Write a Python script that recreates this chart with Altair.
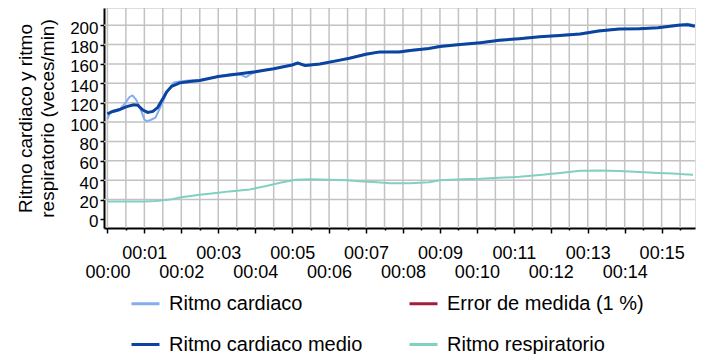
import altair as alt
import pandas as pd

SERIES = ["Ritmo cardiaco", "Error de medida (1 %)", "Ritmo cardiaco medio", "Ritmo respiratorio"]

# time in minutes
raw_t = [0, 0.05, 0.1, 0.3, 0.45, 0.6, 0.68, 0.78, 0.9, 1.0, 1.05, 1.15, 1.3, 1.5, 1.62, 1.8,
         1.96, 2.2, 2.5, 3.0, 3.4, 3.6, 3.75, 3.9, 4.2, 4.5, 5.0, 5.15, 5.35, 5.75, 6.3, 6.55,
         7.0, 7.37, 7.9, 8.2, 8.7, 9.0, 9.55, 10.1, 10.6, 11.15, 11.7, 12.25, 12.8, 13.3, 13.85,
         14.4, 14.9, 15.45, 15.7, 15.9]
raw_v = [103, 108, 110, 112, 118, 126, 127.5, 123, 113, 103, 101, 102, 104.5, 121, 131.5, 141,
         142, 143, 143.5, 147, 150, 149, 146.5, 150, 153.5, 155, 159.5, 161.5, 158, 160, 164.5, 166,
         170.5, 172, 173, 174.5, 176, 178.5, 180, 182.5, 184, 186.5, 188, 190, 191.5, 194.5, 196,
         197, 197.5, 200.5, 201.5, 200]

mean_t = [0, 0.14, 0.33, 0.52, 0.71, 0.82, 0.96, 1.09, 1.23, 1.36, 1.5, 1.6, 1.74, 1.96, 2.23,
          2.5, 3.0, 3.58, 4.0, 4.5, 5.0, 5.15, 5.35, 5.75, 6.3, 6.55, 7.0, 7.37, 7.9, 8.2, 8.7,
          9.0, 9.55, 10.1, 10.6, 11.15, 11.7, 12.25, 12.8, 13.3, 13.85, 14.4, 14.9, 15.45, 15.7, 15.9]
mean_v = [108.5, 111, 113, 116, 118, 117.5, 112.5, 110, 111, 115, 124, 131, 137, 140.5, 142,
          143, 147, 150, 152, 155, 159, 161, 158.5, 160, 164, 166, 170, 172.5, 172.5, 174, 176,
          178, 180, 182, 184.5, 186, 188, 189.5, 191, 194, 196, 196.5, 197.5, 200, 200.5, 199]

resp_t = [0, 0.5, 1.0, 1.3, 1.7, 2.0, 2.5, 3.0, 3.3, 3.85, 4.3, 4.67, 5.1, 5.5, 6.0, 6.5, 6.8,
          7.3, 7.65, 8.2, 8.7, 9.0, 9.6, 10.1, 10.6, 11.15, 11.7, 12.25, 12.8, 13.3, 13.85, 14.4,
          14.9, 15.3, 15.7, 15.85]
resp_v = [18, 18, 18, 18.5, 20, 22.5, 25, 27, 28.5, 30.5, 34, 37.5, 40.5, 41, 40.5, 40, 39,
          38, 37, 37, 38, 40, 41, 41.5, 42.5, 43.5, 45.5, 47.5, 49.8, 50, 49.5, 48.5,
          47.5, 47, 46, 45.7]

y_ticks = list(range(0, 201, 20))
y_grid = list(range(20, 201, 20))
x_ticks = [i * 0.5 for i in range(32)]

COLORS = ["#84acee", "#a0203a", "#0b44a0", "#82d0c0"]
GRID_COLOR = "#c2c2c2"
FONT = "Liberation Sans"

df_raw = pd.DataFrame({"t": raw_t, "v": raw_v, "serie": SERIES[0]})
df_mean = pd.DataFrame({"t": mean_t, "v": mean_v, "serie": SERIES[2]})
df_resp = pd.DataFrame({"t": resp_t, "v": resp_v, "serie": SERIES[3]})
df_xgrid = pd.DataFrame({"t": x_ticks})
df_ygrid = pd.DataFrame({"v": y_grid})

half = "abs(datum.value - round(datum.value)) > 0.01"
even = "round(datum.value) % 2 == 0"
mm = "((round(datum.value) < 10 ? '0' : '') + round(datum.value))"
label_expr = f"{half} ? '' : '00:' + {mm}"

x_enc = alt.X("t:Q",
              scale=alt.Scale(domain=[-0.092, 15.903], nice=False, zero=False),
              axis=alt.Axis(values=x_ticks, labelExpr=label_expr, labelOverlap=False,
                            labelFlush=False, labelFontSize=18,
                            labelBaseline="top",
                            labelPadding={"condition": {"test": even, "value": 30}, "value": 11},
                            labelFont=FONT, labelColor="black",
                            tickSize={"condition": {"test": half, "value": 2}, "value": 5},
                            tickColor="black", tickWidth=1.5,
                            domainColor="black", domainWidth=2, grid=False, title=None))

y_enc = alt.Y("v:Q",
              scale=alt.Scale(domain=[-9.3, 217.8], nice=False, zero=False),
              axis=alt.Axis(values=y_ticks, labelFontSize=17, labelFont=FONT, labelColor="black",
                            labelPadding=2, labelOffset=3, tickSize=4, tickColor="black",
                            tickWidth=1.5, domainColor="black", domainWidth=2, grid=False,
                            title=["Ritmo cardiaco y ritmo", "respiratorio (veces/min)"],
                            titleFont=FONT, titleFontSize=19, titleFontWeight="normal",
                            titleColor="black", titleLineHeight=22, titlePadding=12))

leg = alt.Legend(orient="none", legendX=26, legendY=280, columns=2,
                 direction="horizontal", title=None,
                 symbolType="stroke", symbolSize=784, symbolStrokeWidth=3,
                 labelFont=FONT, labelFontSize=20, labelColor="black",
                 labelLimit=400, labelOffset=8,
                 columnPadding=40, rowPadding=15)

color_enc = alt.Color("serie:N", scale=alt.Scale(domain=SERIES, range=COLORS), legend=leg)

xgrid = alt.Chart(df_xgrid).mark_rule(color=GRID_COLOR, strokeWidth=1.5).encode(x=x_enc)
ygrid = alt.Chart(df_ygrid).mark_rule(color=GRID_COLOR, strokeWidth=1.5).encode(y=y_enc)
raw_line = alt.Chart(df_raw).mark_line(strokeWidth=2).encode(x=x_enc, y=y_enc, color=color_enc)
mean_line = alt.Chart(df_mean).mark_line(strokeWidth=3).encode(x=x_enc, y=y_enc, color=color_enc)
resp_line = alt.Chart(df_resp).mark_line(strokeWidth=2).encode(x=x_enc, y=y_enc, color=color_enc)

chart = alt.layer(xgrid, ygrid, raw_line, mean_line, resp_line).properties(
    width=591, height=220,
    autosize=alt.AutoSizeParams(type="none"),
    padding={"left": 96, "top": 0, "right": 4, "bottom": 126},
    background="white",
)

chart.save("out.html", embed_options={"renderer": "svg", "actions": False})
